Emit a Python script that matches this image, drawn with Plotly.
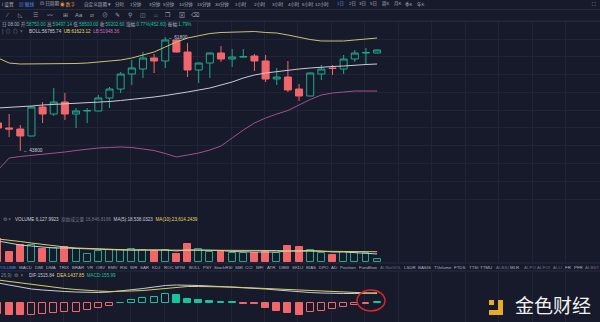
import plotly.graph_objects as go

W, H = 600, 322
BG = '#161a2a'
GRID = '#1f2437'
RED = '#f0676b'
GREEN = '#1fa98b'
GREEN_FILL = '#17c39c'
UB_C = '#c8c27a'
MID_C = '#c9cbd6'
LB_C = '#a4508f'
TXT = '#aeb3c2'
DIM = '#6f7588'
FONT = 'Liberation Sans, Noto Sans CJK SC, sans-serif'

# ---------------- data ----------------
idx = list(range(35))
opens = [48212, 47420, 47260, 46160, 50740, 49630, 51530, 49630, 50110, 50110,
         52160, 53580, 55950, 56740, 58480, 58010, 61330, 59430, 56590, 57690,
         59270, 58320, 58640, 58800, 58010, 55160, 55480, 53580, 52480, 55950,
         56900, 56740, 58320, 59270, 59270]
highs = [48528, 49630, 47900, 50900, 51530, 53740, 52950, 50580, 50580, 52640,
         53900, 56270, 58170, 59430, 59110, 61800, 61400, 60850, 57750, 59350,
         60380, 59900, 59900, 59110, 58960, 56900, 58010, 54370, 56200, 57380,
         57380, 58960, 59750, 60060, 59800]
lows = [47106, 46000, 43800, 46100, 48210, 49320, 48690, 47420, 48210, 50040,
        50580, 52950, 54220, 55320, 56110, 56900, 59350, 55480, 54530, 55320,
        57850, 57060, 58580, 56430, 54690, 54220, 53110, 51690, 52400, 55010,
        55800, 55950, 57850, 57530, 59200]
closes = [47422, 47260, 46160, 50740, 49630, 51530, 49630, 50110, 50180, 52160,
          53580, 55950, 56900, 58480, 58010, 61330, 59430, 56590, 57690, 59270,
          58320, 58640, 58700, 58010, 55160, 55480, 53430, 52480, 56110, 56740,
          56820, 58320, 59270, 59350, 59750]
boll_up = [58482, 57692, 57534, 57534, 57534, 57534, 57534, 57613, 57692, 57850,
           58008, 58166, 58482, 58956, 59430, 60220, 61010, 61642, 62037, 62353,
           62511, 62590, 62669, 62669, 62511, 62432, 62116, 61721, 61405, 61168,
           61168, 61168, 61326, 61484, 61642]
boll_mid = [50582, 50661, 50740, 50898, 51056, 51135, 51214, 51293, 51372, 51530,
            51609, 51767, 51925, 52083, 52320, 52557, 52794, 53110, 53426, 53742,
            54216, 54690, 55322, 55796, 56112, 56349, 56586, 56744, 56902, 57060,
            57139, 57218, 57376, 57455, 57534]
boll_low = [40786, 42682, 42919, 43077, 43235, 43472, 43630, 43867, 44104, 44262,
            44341, 44420, 44341, 44104, 43867, 43393, 42840, 43156, 43472, 43946,
            44578, 45842, 47106, 48212, 49002, 49634, 50187, 51056, 51925, 52636,
            52952, 53110, 53268, 53268, 53268]
volume = [52900, 23000, 39100, 39100, 29900, 32200, 34500, 29900, 18400, 25300,
          27600, 27600, 29900, 27600, 25300, 27600, 18400, 41400, 29900, 23000,
          25300, 20700, 20700, 20700, 23000, 20700, 36800, 34500, 27600, 20700,
          16100, 23000, 20700, 20700, 6128]
vol_ma5 = [48300, 43700, 39100, 36800, 34500, 32200, 32200, 31050, 29900, 28750,
           27600, 27600, 27600, 27600, 27600, 27600, 25300, 27600, 27600, 27600,
           26450, 24150, 23000, 23000, 23000, 23000, 25300, 26450, 26450, 25300,
           23000, 23000, 21850, 20700, 18538]
vol_ma10 = [52900, 50600, 47150, 43700, 40250, 36800, 34500, 32200, 31050, 29900,
            28750, 27600, 27600, 27600, 27600, 27600, 27600, 27600, 27600, 27600,
            27600, 26450, 26450, 26450, 26450, 26450, 25300, 25300, 25300, 25300,
            25300, 24150, 24150, 24150, 23614]
dif = [3000, 2700, 2325, 2100, 1950, 1800, 1725, 1650, 1575, 1575,
       1650, 1800, 1950, 2175, 2400, 2625, 2700, 2700, 2625, 2550,
       2475, 2400, 2325, 2250, 2100, 1950, 1800, 1650, 1575, 1500,
       1425, 1425, 1425, 1425, 1516]
dea = [3450, 3225, 3000, 2775, 2550, 2325, 2175, 2025, 1875, 1800,
       1725, 1725, 1800, 1875, 2025, 2175, 2325, 2475, 2475, 2475,
       2430, 2400, 2325, 2250, 2175, 2100, 2025, 1950, 1800, 1725,
       1650, 1575, 1500, 1455, 1438]
macd_hist = [-1650, -1725, -1800, -1770, -1650, -1500, -1350, -1275, -1050, -750,
             -375, 75, 450, 750, 900, 1350, 1200, 600, 390, 375,
             225, 150, -105, -195, -750, -1125, -1425, -1725, -1350, -1200,
             -900, -600, -255, -75, 156]

period_tabs = ['分时', '1分钟', '3分钟', '5分钟', '10分钟', '15分钟', '30分钟', '1小时', '2小时',
               '3小时', '4小时', '6小时', '12小时', '1日', '2日', '3日', '5日', '周K', '月K', '季K', '年K']
indicator_tabs = ['VOLUME', 'MACD', 'DMI', 'DMA', 'TRIX', 'BRAR', 'VR', 'OBV', 'EMV', 'RSI', 'WR',
                  'SAR', 'KDJ', 'ROC', 'MTM', 'BOLL', 'PSY', 'StochRSI', 'SMI', 'CCI', 'MFI', 'ATR',
                  'DBW', 'SKDJ', 'BIAS', 'DPO', 'AD', 'Position', 'Fundflow', 'AI-NetVOL', 'LSUR',
                  'BASIS', 'TVolume', 'FTDS', 'TTSI', 'TTMU', 'AI-BSI', 'MLR', 'AI-PO', 'AI-FOI',
                  'AI-LI', 'FR', 'PFR', 'AI-BST']

# ---------------- layout helpers ----------------
def px(x):
    return x / W

def py(y):
    return 1 - y / H

annotations = []
def txt(x, y, s, color=TXT, size=4.6, anchor='left'):
    annotations.append(dict(x=px(x), y=py(y), xref='paper', yref='paper', text=s,
                            showarrow=False, xanchor=anchor, yanchor='middle',
                            font=dict(size=size, color=color, family=FONT)))

def span(s, c):
    return "<span style='color:%s'>%s</span>" % (c, s)

fig = go.Figure()

# Bollinger bands
for ser, col in [(boll_up, UB_C), (boll_mid, MID_C), (boll_low, LB_C)]:
    fig.add_trace(go.Scatter(x=idx, y=ser, mode='lines', line=dict(color=col, width=1),
                             xaxis='x', yaxis='y', hoverinfo='skip'))

# candles
fig.add_trace(go.Candlestick(
    x=idx, open=opens, high=highs, low=lows, close=closes,
    increasing=dict(line=dict(color=GREEN, width=1), fillcolor=BG),
    decreasing=dict(line=dict(color=RED, width=1), fillcolor=RED),
    whiskerwidth=0, xaxis='x', yaxis='y'))

# volume
up = [c >= o for o, c in zip(opens, closes)]
fig.add_trace(go.Bar(x=idx, y=volume, width=0.62,
                     marker=dict(color=[BG if u else RED for u in up],
                                 line=dict(color=[GREEN if u else RED for u in up], width=1)),
                     xaxis='x2', yaxis='y2'))
fig.add_trace(go.Scatter(x=idx, y=vol_ma5, mode='lines', line=dict(color=MID_C, width=1),
                         xaxis='x2', yaxis='y2'))
fig.add_trace(go.Scatter(x=idx, y=vol_ma10, mode='lines', line=dict(color='#d6cf6a', width=1),
                         xaxis='x2', yaxis='y2'))

# MACD
fills, lines = [], []
for i, h in enumerate(macd_hist):
    prev = macd_hist[i - 1] if i > 0 else h
    if h >= 0:
        lines.append(GREEN_FILL)
        fills.append(BG if h >= prev else GREEN_FILL)
    else:
        lines.append(RED)
        fills.append(RED if h <= prev else BG)
fig.add_trace(go.Bar(x=idx, y=macd_hist, width=0.62,
                     marker=dict(color=fills, line=dict(color=lines, width=1)),
                     xaxis='x3', yaxis='y3'))
fig.add_trace(go.Scatter(x=idx, y=dif, mode='lines', line=dict(color=MID_C, width=1),
                         xaxis='x3', yaxis='y3'))
fig.add_trace(go.Scatter(x=idx, y=dea, mode='lines', line=dict(color='#d6cf6a', width=1),
                         xaxis='x3', yaxis='y3'))

xcommon = dict(range=[0.18, 53.99], showgrid=True, gridcolor=GRID, gridwidth=1,
               dtick=3, tick0=-0.1, showticklabels=False, zeroline=False,
               showline=False, ticks='', fixedrange=True)
ycommon = dict(showticklabels=False, zeroline=False, showline=False, ticks='', fixedrange=True,
               gridcolor=GRID, gridwidth=1)

fig.update_layout(
    width=W, height=H, margin=dict(l=0, r=0, t=0, b=0),
    paper_bgcolor=BG, plot_bgcolor=BG, showlegend=False,
    boxgap=0.37, boxgroupgap=0,
    xaxis=dict(**xcommon, anchor='y', rangeslider=dict(visible=False)),
    xaxis2=dict(**xcommon, anchor='y2', matches='x'),
    xaxis3=dict(**xcommon, anchor='y3', matches='x'),
    yaxis=dict(**ycommon, domain=[py(210), py(20)], range=[34466, 64486],
               showgrid=True, dtick=2812, tick0=61484),
    yaxis2=dict(**ycommon, domain=[py(262), py(210)], range=[0, 119600], showgrid=False),
    yaxis3=dict(**ycommon, domain=[0, py(272)], range=[-2850, 4650], showgrid=False),
    bargap=0,
)

# ---------------- text ----------------
# top toolbar row
txt(0, 4, 'i 设置', TXT, 4.6)
txt(17, 4, '▤ 图线', '#4a8df0', 4.6)
txt(38, 4, '⊡ 日周期', TXT, 4.6)
txt(58, 4, '◉ 数字', '#e39a3b', 4.6)
txt(82, 4, '自定义周期 ▾', TXT, 4.6)
tab_x = [113, 128, 147, 161, 177, 195, 213, 233, 252, 270, 286, 300, 313, 335, 347, 357, 368, 380, 392, 403, 415]
for s, x in zip(period_tabs, tab_x):
    txt(x, 4, s, '#4a8df0' if s == '1日' else TXT, 4.4)
txt(598, 4, '⛶', TXT, 5, 'right')

icons = ['⁄', '◺', '☰', '〰', '⊞', 'Aa', '⧄', '⊘', '✎', '⚲', '◫', '⌂', '❐', '⊠', '⌫']
icon_x = [7, 20, 35, 50, 65, 79, 92, 105, 117, 130, 143, 156, 168, 182, 195]
for s, x in zip(icons, icon_x):
    txt(x, 15, s, '#9aa0b2', 6, 'center')

# OHLC row
row3 = [('日 08:00', TXT), ('开:', TXT), ('58750.00', GREEN_FILL), ('高:', TXT),
        ('59497.14', GREEN_FILL), ('低:', TXT), ('58500.00', GREEN_FILL), ('收:', TXT),
        ('59202.60', GREEN_FILL), ('涨幅:', TXT), ('0.77%(452.60)', GREEN_FILL),
        ('振幅:', TXT), ('1.79%', GREEN_FILL)]
pieces = []
for k, (s, c) in enumerate(row3):
    sep = ' ' if (k > 0 and not row3[k - 1][0].endswith(':')) else ''
    pieces.append(sep + span(s, c))
txt(0, 25, ''.join(pieces), TXT, 4.6)

txt(0, 32, ']  ◎  ◎  ×', '#7d8396', 4.6)
txt(27, 32, span('BOLL:56785.74', MID_C) + '  ' + span('UB:61623.12', '#e4d86a') + '  ' +
    span('LB:51948.36', '#d26ac0'), TXT, 4.6)

# high/low markers
annotations.append(dict(x=15, y=61800, xref='x', yref='y', text='← 61800', showarrow=False,
                        xanchor='left', yanchor='middle', xshift=1,
                        font=dict(size=4.8, color='#c9cbd6', family=FONT)))
annotations.append(dict(x=2, y=43800, xref='x', yref='y', text='← 43800', showarrow=False,
                        xanchor='left', yanchor='middle', xshift=1,
                        font=dict(size=4.8, color='#c9cbd6', family=FONT)))

# volume label
txt(1, 219, '⚙ ×', '#7d8396', 4.6)
txt(13, 219, span('VOLUME 6,127.9923', MID_C) + '  ' + span('原始成交量 16,846.8186', DIM) + '  ' +
    span('MA(5):18,538.0323', MID_C) + '  ' + span('MA(10):23,614.2439', '#e4d86a'), TXT, 4.6)

# indicator tab row
ind_x = [-4, 17, 33, 44, 57, 70, 85, 94, 106, 118, 128, 138, 150, 162, 173, 187, 201, 212, 233, 243,
         254, 265, 277, 290, 304, 317, 329, 338, 357, 378, 402, 416, 432, 452, 467, 478, 494, 508,
         522, 535, 551, 563, 572, 583]
for s, x in zip(indicator_tabs, ind_x):
    col = '#4a8df0' if s == 'VOLUME' else (DIM if s.startswith('AI-') else TXT)
    txt(x, 267, s, col, 4.4)

# MACD label
txt(-1, 275, '26,9)  ⚙  ×', '#7d8396', 4.6)
txt(27, 275, span('DIF:1515.84', MID_C) + '  ' + span('DEA:1437.85', '#e4d86a') + '  ' +
    span('MACD:155.99', GREEN_FILL), TXT, 4.6)

# watermark
txt(513, 306, '金色财经', '#f2f2f2', 19)

shapes = []
def prect(x0, y0, x1, y1, color):
    shapes.append(dict(type='rect', xref='paper', yref='paper', x0=px(x0), x1=px(x1),
                       y0=py(y1), y1=py(y0), fillcolor=color, line=dict(width=0)))
def pline(x0, y0, x1, y1, color, width=1):
    shapes.append(dict(type='line', xref='paper', yref='paper', x0=px(x0), x1=px(x1),
                       y0=py(y0), y1=py(y1), line=dict(color=color, width=width)))

pline(0, 9.5, 600, 9.5, '#262b3e')
pline(0, 21, 600, 21, '#262b3e')
pline(0, 263, 600, 263, '#262b3e')
pline(0, 271, 600, 271, '#262b3e')

YEL = '#e9aa24'
prect(489, 300, 494, 305, YEL)
prect(498, 300, 503, 315, YEL)
prect(489, 310, 503, 315, YEL)

shapes.append(dict(type='circle', xref='paper', yref='paper', x0=px(357), x1=px(385),
                   y0=py(311), y1=py(290), line=dict(color='#d8262b', width=1.5)))

fig.update_layout(annotations=annotations, shapes=shapes)
fig.write_html('out.html')
